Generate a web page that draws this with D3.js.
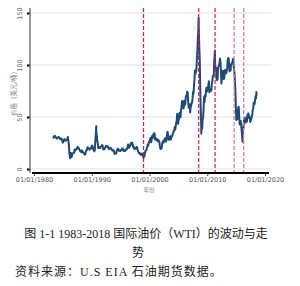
<!DOCTYPE html>
<html>
<head>
<meta charset="utf-8">
<script src="https://cdn.jsdelivr.net/npm/d3@7"></script>
<style>
  body { margin: 0; background: #fff; }
  svg { display: block; }
</style>
</head>
<body>
<div id="chart"></div>
<script>
// WTI 月均价（美元/桶），从 1983 年 4 月开始
const wtiStart = "1983-04-15";
const wtiMonthly = [
  30.6, 30.0, 31.0, 31.7, 31.9, 31.1, 30.4, 29.8, 29.2,
  29.7, 30.1, 30.8, 30.6, 30.5, 29.8, 28.7, 29.3, 29.3, 28.8, 28.1, 25.4,
  25.6, 27.3, 28.2, 28.8, 27.6, 27.1, 27.3, 27.8, 28.3, 29.5, 30.8, 27.2,
  22.9, 15.4, 12.6, 12.8, 15.4, 13.5, 11.6, 15.1, 14.9, 14.9, 15.2, 16.1,
  18.7, 17.7, 18.3, 18.6, 19.4, 20.0, 21.4, 20.3, 19.5, 19.8, 18.9, 17.2,
  17.1, 16.8, 16.2, 17.9, 17.4, 16.5, 15.5, 15.5, 14.5, 13.8, 14.0, 16.3,
  18.0, 17.9, 19.5, 21.0, 20.0, 20.0, 19.6, 18.5, 19.6, 20.1, 19.8, 21.1,
  22.6, 22.1, 20.4, 18.6, 18.2, 16.9, 18.6, 27.2, 33.7, 35.9, 32.3, 27.3,
  25.2, 20.5, 19.9, 20.8, 21.2, 20.2, 21.4, 21.7, 21.9, 23.2, 22.5, 19.5,
  18.8, 19.0, 18.9, 20.2, 20.9, 22.4, 21.8, 21.4, 21.9, 21.7, 20.3, 19.4,
  19.1, 20.1, 20.3, 20.3, 19.9, 19.1, 17.9, 18.0, 17.5, 18.1, 16.7, 14.5,
  15.0, 14.8, 14.7, 16.4, 17.9, 19.1, 19.6, 18.4, 17.5, 17.7, 18.1, 17.2,
  18.0, 18.5, 18.6, 19.9, 19.7, 18.4, 17.3, 18.0, 18.2, 17.4, 18.0, 19.0,
  18.9, 19.1, 21.3, 23.5, 21.2, 20.4, 21.3, 21.9, 23.9, 24.9, 23.7, 25.4,
  25.1, 22.2, 21.0, 19.7, 20.8, 19.2, 19.6, 19.9, 19.8, 21.3, 20.2, 18.3,
  16.7, 16.1, 15.0, 15.4, 14.9, 13.7, 14.1, 13.4, 15.0, 14.4, 12.9, 11.3,
  12.5, 12.0, 14.7, 17.3, 17.8, 17.9, 20.1, 21.3, 23.9, 22.6, 25.0, 26.1,
  27.2, 29.4, 29.9, 25.7, 28.8, 31.8, 29.7, 31.2, 33.9, 33.1, 34.4, 28.5,
  29.6, 29.6, 27.3, 27.4, 28.6, 27.6, 26.4, 27.4, 26.2, 22.2, 19.6, 19.3,
  19.7, 20.7, 24.4, 26.2, 27.0, 25.5, 26.9, 28.4, 29.7, 28.9, 26.3, 29.4,
  32.9, 35.9, 33.5, 28.3, 28.1, 30.7, 30.8, 31.6, 28.3, 30.3, 31.1, 32.2,
  34.3, 34.7, 36.8, 36.7, 40.3, 38.0, 40.8, 44.9, 46.0, 53.1, 48.5, 43.3,
  46.8, 48.1, 54.2, 53.0, 49.8, 56.4, 59.0, 65.0, 65.6, 62.4, 58.3, 59.4,
  65.5, 61.6, 62.7, 69.4, 70.8, 70.9, 74.4, 73.0, 63.8, 58.9, 59.1, 62.0,
  54.5, 59.3, 60.4, 63.9, 63.5, 67.5, 74.1, 72.4, 79.9, 85.8, 94.8, 91.7,
  93.0, 95.4, 105.5, 112.6, 125.4, 133.9, 133.4, 116.7, 104.1, 76.6, 57.3, 41.1,
  41.7, 39.1, 47.9, 49.7, 59.0, 69.6, 64.2, 71.1, 69.5, 75.8, 78.1, 74.5,
  78.3, 76.4, 81.2, 84.3, 73.7, 75.3, 76.3, 76.6, 75.2, 81.9, 84.3, 89.2,
  89.6, 89.6, 102.9, 109.5, 100.9, 96.3, 97.3, 86.3, 85.5, 86.3, 97.2, 98.6,
  100.3, 102.2, 106.2, 103.3, 94.7, 82.3, 87.9, 94.1, 94.5, 89.5, 86.5, 87.9,
  94.8, 95.3, 92.9, 92.0, 94.5, 95.8, 104.6, 106.6, 106.3, 100.5, 93.9, 97.6,
  94.6, 100.8, 100.8, 102.1, 102.2, 105.8, 103.6, 96.5, 93.2, 84.4, 75.8, 59.3,
  47.2, 50.6, 47.8, 54.5, 59.3, 59.8, 50.9, 42.9, 45.5, 46.2, 42.4, 37.2,
  31.7, 30.3, 37.5, 40.8, 46.7, 48.8, 44.7, 44.7, 45.2, 49.8, 45.7, 52.0,
  52.5, 53.5, 49.3, 51.1, 48.5, 45.2, 46.6, 48.0, 49.8, 51.6, 56.6, 57.9,
  63.7, 62.2, 62.7, 66.3, 70.0, 67.9, 70.5
];
// 日度极值点
const wtiSpikes = [
  ["1986-03-31", 10.4], ["1990-10-11", 41.0], ["1998-12-10", 10.8],
  ["2008-07-03", 145.3], ["2008-12-19", 33.9], ["2011-04-29", 113.9],
  ["2016-02-11", 26.2], ["2018-07-03", 74.1]
];
// 红色虚线（事件时点）
const eventDates = ["1998-12-20", "2008-07-08", "2011-05-10", "2014-08-28", "2016-04-20"];
const eventFaded = [false, false, false, true, true];
const xTickDates = ["1980-01-01", "1990-01-01", "2000-01-01", "2010-01-01", "2020-01-01"];
const xTickLabels = ["01/01/1980", "01/01/1990", "01/01/2000", "01/01/2010", "01/01/2020"];
const yTicks = [0, 50, 100, 150];

const parse = d3.timeParse("%Y-%m-%d");

// 拼成日期序列
const start = parse(wtiStart);
let series = wtiMonthly.map((v, i) => ({ date: d3.timeMonth.offset(start, i), value: v }));
wtiSpikes.forEach(s => series.push({ date: parse(s[0]), value: s[1] }));
series.sort((a, b) => a.date - b.date);

const width = 300, height = 286;

const svg = d3.select("#chart").append("svg")
  .attr("width", width)
  .attr("height", height)
  .style("background", "#fff");

const xScale = d3.scaleTime()
  .domain([parse("1980-01-01"), parse("2020-01-01")])
  .range([34, 265]);

const yScale = d3.scaleLinear()
  .domain([0, 150])
  .range([169, 13]);

// 水平网格线
svg.append("g")
  .selectAll("line")
  .data(yTicks)
  .enter()
  .append("line")
  .attr("x1", 30)
  .attr("x2", 271)
  .attr("y1", d => yScale(d))
  .attr("y2", d => yScale(d))
  .attr("stroke", "#e6edf2")
  .attr("stroke-width", 1.6);

// 价格线
const line = d3.line()
  .x(d => xScale(d.date))
  .y(d => yScale(d.value));

svg.append("path")
  .datum(series)
  .attr("d", line)
  .attr("fill", "none")
  .attr("stroke", "#1e4a74")
  .attr("stroke-width", 2)
  .attr("stroke-linejoin", "round");

// 红色虚线
svg.append("g")
  .selectAll("line")
  .data(eventDates)
  .enter()
  .append("line")
  .attr("x1", d => xScale(parse(d)))
  .attr("x2", d => xScale(parse(d)))
  .attr("y1", 8)
  .attr("y2", 172)
  .attr("stroke", (d, i) => eventFaded[i] ? "#e0718d" : "#d81a48")
  .attr("stroke-width", 1.2)
  .attr("stroke-dasharray", "4,2");

// y 轴
const yAxis = svg.append("g")
  .attr("transform", "translate(30,0)")
  .call(d3.axisLeft(yScale).tickValues(yTicks).tickSize(3).tickSizeOuter(0));
yAxis.select(".domain").remove();
yAxis.append("line")
  .attr("x1", 0).attr("x2", 0)
  .attr("y1", 8).attr("y2", 173)
  .attr("stroke", "#666")
  .attr("stroke-width", 1.3);
yAxis.selectAll(".tick line")
  .attr("stroke", "#000")
  .attr("stroke-width", 2);
yAxis.selectAll(".tick text")
  .attr("transform", "rotate(-90)")
  .attr("x", 0)
  .attr("y", -8)
  .attr("dy", 0)
  .style("text-anchor", "middle")
  .style("font-family", "DejaVu Sans, sans-serif")
  .style("font-size", "6.5px")
  .attr("fill", "#666");

// x 轴
const xAxis = svg.append("g")
  .attr("transform", "translate(0,173)")
  .call(d3.axisBottom(xScale)
    .tickValues(xTickDates.map(parse))
    .tickFormat((d, i) => xTickLabels[i])
    .tickSize(3)
    .tickSizeOuter(0));
xAxis.select(".domain").remove();
xAxis.append("line")
  .attr("x1", 32).attr("x2", 269)
  .attr("y1", 0).attr("y2", 0)
  .attr("stroke", "#000")
  .attr("stroke-width", 2);
xAxis.selectAll(".tick line").attr("stroke", "#444");
xAxis.selectAll(".tick text")
  .attr("y", 4)
  .style("font-family", "DejaVu Sans, sans-serif")
  .style("font-size", "6.5px")
  .attr("fill", "#555");

// 轴标题
svg.append("text")
  .attr("x", 149)
  .attr("y", 192)
  .attr("text-anchor", "middle")
  .style("font-family", "Noto Sans CJK SC, sans-serif")
  .style("font-size", "5.5px")
  .attr("fill", "#888")
  .text("年份");

svg.append("text")
  .attr("transform", "translate(16,92) rotate(-90)")
  .attr("text-anchor", "middle")
  .style("font-family", "Noto Sans CJK SC, sans-serif")
  .style("font-size", "6.5px")
  .attr("fill", "#888")
  .text("价格（美元/桶）");

// 图题与资料来源
const capFont = "Liberation Serif, Noto Sans CJK SC, serif";
svg.append("text")
  .attr("x", 146)
  .attr("y", 238)
  .attr("text-anchor", "middle")
  .style("font-family", capFont)
  .style("font-size", "12px")
  .attr("fill", "#222")
  .text("图 1-1 1983-2018 国际油价（WTI）的波动与走");

svg.append("text")
  .attr("x", 138)
  .attr("y", 257)
  .attr("text-anchor", "middle")
  .style("font-family", capFont)
  .style("font-size", "12px")
  .attr("fill", "#222")
  .text("势");

svg.append("text")
  .attr("x", 15)
  .attr("y", 276)
  .style("font-family", capFont)
  .style("font-size", "12px")
  .style("letter-spacing", "1px")
  .attr("fill", "#222")
  .text("资料来源：U.S EIA 石油期货数据。");
</script>
</body>
</html>
